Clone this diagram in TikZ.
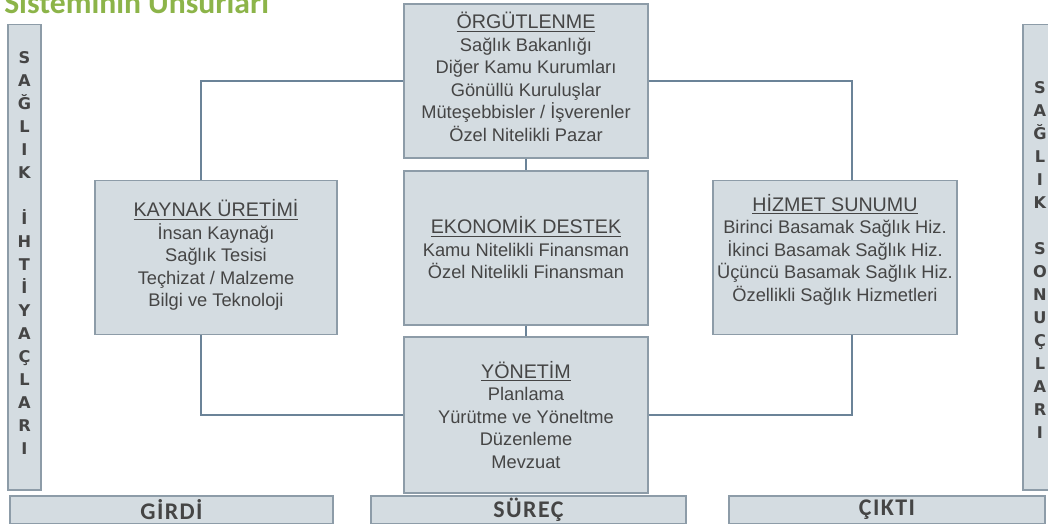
\documentclass[tikz,border=0pt]{standalone}
\usepackage{fontspec}
\setmainfont{Liberation Sans}
\newfontfamily\harffont{DejaVu Sans}
\newfontfamily\calfont{Carlito}
\newfontfamily\altfont{Carlito}[LetterSpace=6]
\definecolor{kutu}{HTML}{D4DCE1}
\definecolor{kenar}{HTML}{8D9CA8}
\definecolor{hat}{HTML}{6B8398}
\definecolor{yazi}{HTML}{454545}
\definecolor{yesil}{HTML}{8CB449}
\tikzset{
  kutu/.style={draw=kenar, fill=kutu, line width=0.8pt, inner sep=0pt,
    minimum width=6.1cm, minimum height=3.85cm, align=center, text=yazi,
    font=\fontsize{13}{16}\selectfont},
  serit/.style={draw=kenar, fill=kutu, line width=0.8pt, inner sep=0pt},
  harf/.style={anchor=base, text=yazi, font=\harffont\bfseries\fontsize{11.5}{13}\selectfont},
  etiket/.style={text=yazi, font=\altfont\bfseries\fontsize{17}{20}\selectfont},
  hat/.style={draw=hat, line width=1.6pt}
}
\newcommand{\baslik}[1]{{\fontsize{14}{17}\selectfont\underline{#1}}\\}
\begin{document}
\begin{tikzpicture}[x=0.025cm, y=-0.025cm]
  \useasboundingbox (0,0) rectangle (1048,524);

  % baslik
  \node [anchor=base west, inner sep=0pt, text=yesil,
         font=\calfont\bfseries\fontsize{22.5}{26}\selectfont] (baslik) at (4,14) {Sisteminin Unsurları};

  % yan seritler
  \node [serit, minimum width=0.825cm, minimum height=11.625cm] (sol) at (24.5,257.5) {};
  \node [serit, minimum width=0.85cm, minimum height=11.625cm] (sag) at (1040,257.5) {};
  \foreach \h [count=\i] in {S,A,Ğ,L,I,K,{},İ,H,T,İ,Y,A,Ç,L,A,R,I}
      \node [harf] (sol-\i) at (24.5,{64+(\i-1)*23}) {\h};
  \foreach \h [count=\i] in {S,A,Ğ,L,I,K,{},S,O,N,U,Ç,L,A,R,I}
      \node [harf] (sag-\i) at (1040,{94+(\i-1)*23}) {\h};

  % kutular
  \node [kutu, text depth=6pt] (orgut) at (526,81) {\baslik{ÖRGÜTLENME}Sağlık Bakanlığı\\Diğer Kamu Kurumları\\Gönüllü Kuruluşlar\\Müteşebbisler / İşverenler\\Özel Nitelikli Pazar};
  \node [kutu] (ekonomi) at (526,248) {\baslik{EKONOMİK DESTEK}Kamu Nitelikli Finansman\\Özel Nitelikli Finansman};
  \node [kutu, minimum height=3.9cm] (yonetim) at (526,415) {\baslik{YÖNETİM}Planlama\\Yürütme ve Yöneltme\\Düzenleme\\Mevzuat};
  \node [kutu, minimum width=6.05cm, text depth=6pt] (kaynak) at (216,257.5) {\baslik{KAYNAK ÜRETİMİ}İnsan Kaynağı\\Sağlık Tesisi\\Teçhizat / Malzeme\\Bilgi ve Teknoloji};
  \node [kutu, text depth=14pt] (hizmet) at (835,257.5) {\baslik{HİZMET SUNUMU}Birinci Basamak Sağlık Hiz.\\İkinci Basamak Sağlık Hiz.\\Üçüncü Basamak Sağlık Hiz.\\Özellikli Sağlık Hizmetleri};

  % alt seritler
  \node [serit, etiket, minimum width=8.075cm, minimum height=0.7cm] (girdi) at (171.5,510) {GİRDİ};
  \node [serit, etiket, minimum width=7.875cm, minimum height=0.7cm] (surec) at (528.5,510) {SÜREÇ};
  \node [serit, etiket, minimum width=7.9cm, minimum height=0.7cm] (cikti) at (887,510) {ÇIKTI};

  % baglantilar
  \draw [hat] (orgut.west) -| ([xshift=-0.375cm]kaynak.north);
  \draw [hat] (orgut.east) -| ([xshift=0.425cm]hizmet.north);
  \draw [hat] (yonetim.west) -| ([xshift=-0.375cm]kaynak.south);
  \draw [hat] (yonetim.east) -| ([xshift=0.425cm]hizmet.south);
  \draw [hat] (orgut) -- (ekonomi);
  \draw [hat] (ekonomi) -- (yonetim);

\end{tikzpicture}
\end{document}
